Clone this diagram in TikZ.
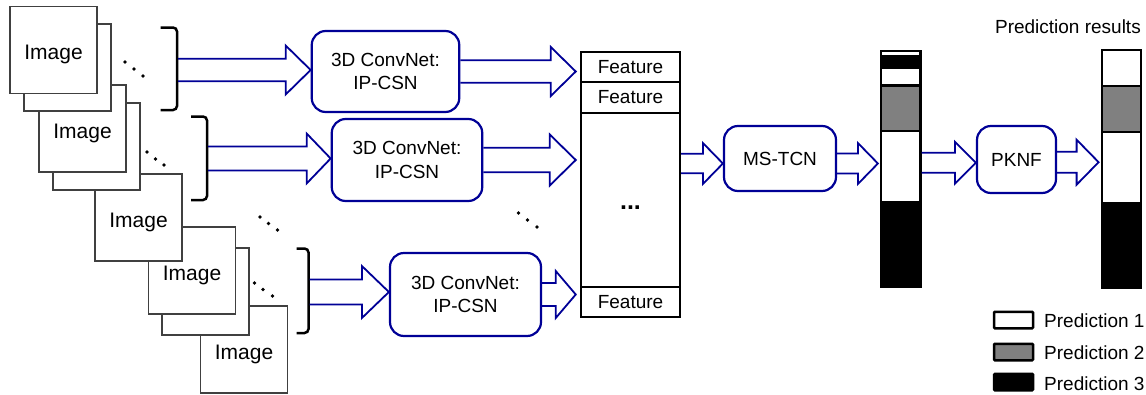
\documentclass[tikz,border=0pt]{standalone}
\usepackage{fontspec}
\setmainfont{Liberation Sans}
\usetikzlibrary{calc}
\definecolor{navy}{RGB}{0,0,150}
\definecolor{midgray}{RGB}{128,128,128}
% hollow block arrow: start, end, shaft half-width, head half-width, head length
\newcommand\hollowarrow[5]{%
  \draw[arr] let \p1=(#1), \p2=(#2) in
    (\x1,\y1+#3) -- (\x2-#5,\y1+#3) -- (\x2-#5,\y1+#4) -- (\x2,\y1)
    -- (\x2-#5,\y1-#4) -- (\x2-#5,\y1-#3) -- (\x1,\y1-#3);}
\begin{document}
\begin{tikzpicture}[x=1pt,y=-1pt,
  imgbox/.style={draw=black!75, line width=1.3pt, fill=white, minimum width=87pt,
    minimum height=87pt, inner sep=0pt, text height=19pt, text depth=0pt,
    font=\fontsize{21}{24}\selectfont},
  framebox/.style={draw=black!75, line width=1.3pt, fill=white, minimum width=87pt,
    minimum height=87pt, inner sep=0pt},
  netbox/.style={draw=navy, line width=2.2pt, rounded corners=14pt, fill=white,
    inner sep=0pt, align=center, font=\fontsize{19}{23.5}\selectfont},
  cell/.style={draw=black, line width=2.5pt, inner sep=0pt, minimum width=99pt,
    font=\fontsize{19}{23}\selectfont},
  arr/.style={draw=navy, line width=1.8pt, line join=miter},
  brk/.style={draw=black, line width=2.5pt, rounded corners=4pt},
  dotc/.style={fill=black, circle, inner sep=0pt, minimum size=3.8pt},
  seg/.style={draw=black, line width=2.2pt},
  lbl/.style={font=\fontsize{19}{23}\selectfont, inner sep=0pt},
  legbox/.style={draw=black, line width=2.5pt, rounded corners=1pt, minimum width=39pt,
    minimum height=16.5pt, inner sep=0pt},
]
\useasboundingbox (0,0) rectangle (1146,394);

% ---- stacked image frames (drawn back to front) ----
\node[imgbox] (a5) at (244,349.5) {Image};
\node[framebox] (b4) at (205.5,291.5) {};
\node[imgbox] (a4) at (192,270.5) {Image};
\node[imgbox] (a3) at (138.5,217.5) {Image};
\node[framebox] (b2) at (96.5,146.5) {};
\node[imgbox] (a2) at (82.5,128.5) {Image};
\node[framebox] (b1) at (67.5,67.5) {};
\node[imgbox] (a1) at (53.5,50) {Image};

% ---- diagonal ellipses ----
\foreach \n/\x/\y in {d1a/125/62, d1b/134/69, d1c/143/76,
                      d2a/147/152, d2b/155.5/159, d2c/164/165,
                      d3a/260/217, d3b/268.5/223.5, d3c/277.5/230,
                      d4a/254.5/283, d4b/263/289.5, d4c/272.5/296,
                      d5a/518.5/213, d5b/527.5/220, d5c/537/227}
  \node[dotc] (\n) at (\x,\y) {};

% ---- brackets ----
\draw[brk] (160.5,27.5) -- (177,27.5) -- (177,110) -- (160.5,110);
\draw[brk] (191,116.5) -- (207,116.5) -- (207,200) -- (191,200);
\draw[brk] (296.5,248.5) -- (308.5,248.5) -- (308.5,333) -- (296.5,333);
\coordinate (k1) at (178,70);
\coordinate (k2) at (208,158.5);
\coordinate (k3) at (309.5,292);

% ---- 3D ConvNet boxes ----
\node[netbox, minimum width=147.5pt, minimum height=81pt] (c1) at (385.5,71.5) {3D ConvNet:\\IP-CSN};
\node[netbox, minimum width=150.5pt, minimum height=82pt] (c2) at (407,160) {3D ConvNet:\\IP-CSN};
\node[netbox, minimum width=151pt, minimum height=83pt] (c3) at (465.5,294.5) {3D ConvNet:\\IP-CSN};

% ---- feature column ----
\node[cell, minimum height=30pt] (f1) at (630.5,67) {Feature};
\node[cell, minimum height=31pt] (f2) at (630.5,97.5) {Feature};
\node[cell, minimum height=174pt] (fd) at (630.5,200) {};
\node[cell, minimum height=30pt] (f3) at (630.5,302) {Feature};
\node[inner sep=0pt, font=\fontsize{25}{28}\selectfont\bfseries] (fdots) at (630.5,208) {...};

% ---- MS-TCN and PKNF ----
\node[netbox, minimum width=112pt, minimum height=65pt] (ms) at (780,158.5) {MS-TCN};
\node[netbox, minimum width=79pt, minimum height=67pt] (pk) at (1016.5,159.5) {PKNF};

% ---- prediction bar 1 ----
\filldraw[seg, fill=white] (881,51) rectangle (920.5,56.5);
\filldraw[seg, fill=black] (881,56.5) rectangle (920.5,68);
\filldraw[seg, fill=white] (881,68) rectangle (920.5,85.5);
\filldraw[seg, fill=midgray] (881,85.5) rectangle (920.5,131);
\filldraw[seg, fill=white] (881,131) rectangle (920.5,202.5);
\filldraw[seg, fill=black] (881,202.5) rectangle (920.5,287);
\node[draw=black, line width=2.2pt, minimum width=39.5pt, minimum height=236pt, inner sep=0pt] (bar1) at (900.75,169) {};

% ---- prediction bar 2 ----
\filldraw[seg, fill=white] (1101.7,50) rectangle (1140.7,85.7);
\filldraw[seg, fill=midgray] (1101.7,85.7) rectangle (1140.7,131.7);
\filldraw[seg, fill=white] (1101.7,131.7) rectangle (1140.7,202.7);
\filldraw[seg, fill=black] (1101.7,202.7) rectangle (1140.7,288);
\node[draw=black, line width=2.2pt, minimum width=39pt, minimum height=238pt, inner sep=0pt] (bar2) at (1121.2,169) {};
\node[lbl, anchor=east] (title) at (1141,27) {Prediction results};

% ---- legend ----
\node[legbox, fill=white] (l1) at (1013.5,320) {};
\node[legbox, fill=midgray] (l2) at (1013.5,352) {};
\node[legbox, fill=black] (l3) at (1013.5,382) {};
\node[lbl, anchor=west] (t1) at (1044,321) {Prediction 1};
\node[lbl, anchor=west] (t2) at (1044,353) {Prediction 2};
\node[lbl, anchor=west] (t3) at (1044,384) {Prediction 3};

% ---- hollow arrows ----
\coordinate (m0) at (681,163.5);
\coordinate (m1) at (837,163.5);
\coordinate (p0) at (921.5,162.7);
\coordinate (p1) at (1057,162.2);
\hollowarrow{k1}{c1.west}{11.2pt}{24.5pt}{25pt}
\hollowarrow{c1.east}{$(f1.west)+(-4,0)$}{11.3pt}{24.5pt}{25pt}
\hollowarrow{k2}{c2.west}{12pt}{25pt}{24pt}
\hollowarrow{c2.east}{$(fd.west)+(-4,0)$}{12.2pt}{25.5pt}{26pt}
\hollowarrow{k3}{c3.west}{12.5pt}{26pt}{27pt}
\hollowarrow{c3.east}{$(f3.west)+(-4,0)$}{11.5pt}{23.5pt}{20pt}
\hollowarrow{m0}{ms.west}{9.7pt}{20.5pt}{20pt}
\hollowarrow{m1}{$(bar1.west)+(-2,0)$}{10pt}{20.5pt}{20pt}
\hollowarrow{p0}{pk.west}{10pt}{21pt}{21pt}
\hollowarrow{p1}{$(bar2.west)+(-2,0)$}{10.5pt}{22.5pt}{22pt}
\end{tikzpicture}
\end{document}
